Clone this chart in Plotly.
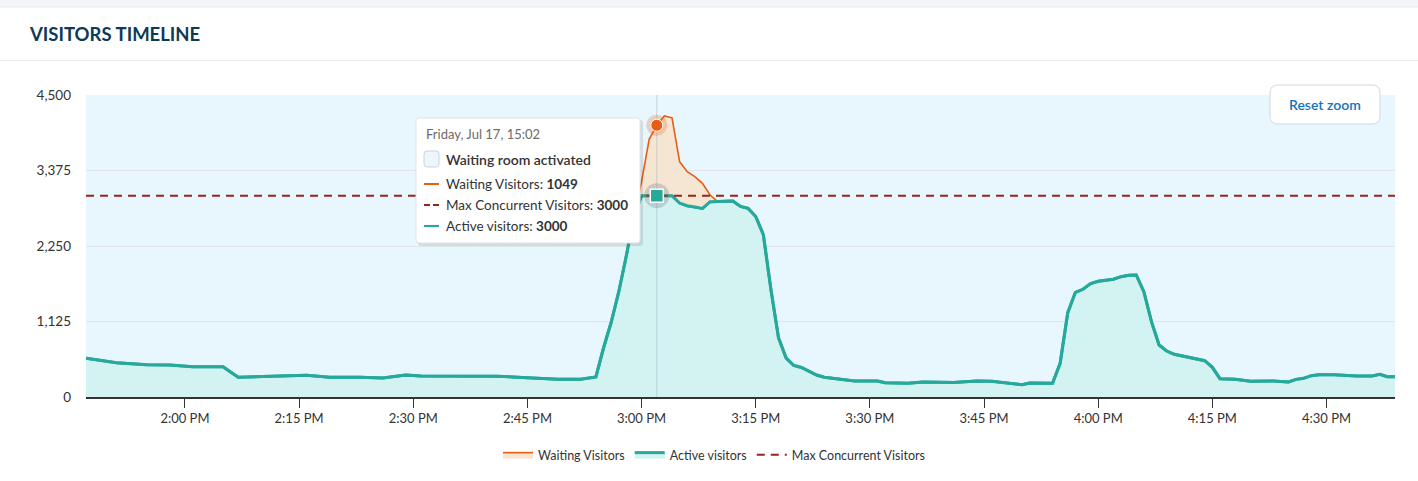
import pandas as pd
import plotly.graph_objects as go

# Datos (Friday, Jul 17 -> 2020-07-17)
day = "2020-07-17"

active_times = ["13:47", "13:49", "13:51", "13:55", "13:58", "14:01", "14:05", "14:07", "14:10", "14:13",
                "14:16", "14:19", "14:23", "14:26", "14:29", "14:31", "14:37", "14:41", "14:45", "14:49",
                "14:52", "14:54", "14:55", "14:56", "14:57", "14:58", "14:59", "15:00", "15:01", "15:02",
                "15:03", "15:04", "15:05", "15:06", "15:07", "15:08", "15:09", "15:10", "15:11", "15:12",
                "15:13", "15:14", "15:15", "15:16", "15:17", "15:18", "15:19", "15:20", "15:21", "15:23",
                "15:24", "15:26", "15:28", "15:31", "15:32", "15:35", "15:37", "15:41", "15:44", "15:46",
                "15:48", "15:50", "15:51", "15:54", "15:55", "15:56", "15:57", "15:58", "15:59", "16:00",
                "16:02", "16:03", "16:04", "16:05", "16:06", "16:07", "16:08", "16:09", "16:10", "16:12",
                "16:14", "16:15", "16:16", "16:18", "16:20", "16:23", "16:25", "16:26", "16:27", "16:28",
                "16:29", "16:31", "16:32", "16:34", "16:36", "16:37", "16:38", "16:39"]
active_visitors = [577, 541, 511, 481, 477, 452, 452, 294, 303, 303,
                   323, 294, 296, 283, 328, 313, 315, 310, 288, 263,
                   265, 298, 730, 1110, 1565, 2105, 2700, 3000, 3000, 3000,
                   3000, 3000, 2890, 2850, 2830, 2810, 2910, 2910, 2920, 2920,
                   2840, 2810, 2690, 2420, 1600, 880, 580, 470, 440, 328,
                   294, 268, 238, 238, 213, 204, 224, 215, 238, 233,
                   205, 184, 209, 204, 502, 1256, 1560, 1605, 1690, 1724,
                   1754, 1793, 1813, 1818, 1569, 1122, 775, 685, 636, 586,
                   541, 442, 273, 263, 234, 238, 224, 263, 278, 318,
                   333, 333, 323, 313, 313, 338, 303, 300]

waiting_times = ["14:59", "15:00", "15:01", "15:02", "15:03", "15:04", "15:05", "15:06", "15:07", "15:08",
                 "15:09", "15:10"]
waiting_visitors = [0, 210, 840, 1049, 1187, 1160, 616, 507, 453, 374, 100, 0]

max_concurrent = 3000
hover_time = "15:02"

y_ticks = [0, 1125, 2250, 3375, 4500]
x_ticks = ["14:00", "14:15", "14:30", "14:45", "15:00", "15:15", "15:30", "15:45", "16:00", "16:15", "16:30"]

# Colores
TEAL = "#26a99b"
TEAL_FILL = "#d3f2f2"
ORANGE = "#e85d14"
ORANGE_FILL = "#f5e6d4"
DARKRED = "#9b2418"
PLOT_BG = "#e8f6fd"

df_active = pd.DataFrame({"t": pd.to_datetime([f"{day} {t}" for t in active_times]), "v": active_visitors})
df_wait = pd.DataFrame({"t": pd.to_datetime([f"{day} {t}" for t in waiting_times]), "w": waiting_visitors})
df_wait = df_wait.merge(df_active, on="t", how="left")
df_wait["total"] = df_wait["v"] + df_wait["w"]

t_start = df_active["t"].iloc[0]
t_end = df_active["t"].iloc[-1]
t_hover = pd.Timestamp(f"{day} {hover_time}")
row_hover = df_wait[df_wait["t"] == t_hover].iloc[0]

# Conversion pixeles -> coordenadas paper (area del grafico 86..1395 x 95..397)
L, R, T, B = 86, 1395, 95, 397


def px(x):
    return (x - L) / (R - L)


def py(y):
    return (B - y) / (B - T)


def rounded_rect(x0, y0, x1, y1, r):
    # rectangulo redondeado en pixeles -> path en coordenadas paper
    rx = r / (R - L)
    ry = r / (B - T)
    a, b, c, d = px(x0), py(y1), px(x1), py(y0)
    return (f"M {a + rx},{b} L {c - rx},{b} Q {c},{b} {c},{b + ry} "
            f"L {c},{d - ry} Q {c},{d} {c - rx},{d} L {a + rx},{d} Q {a},{d} {a},{d - ry} "
            f"L {a},{b + ry} Q {a},{b} {a + rx},{b} Z")


fig = go.Figure()

# Active visitors (area)
fig.add_trace(go.Scatter(
    x=df_active["t"], y=df_active["v"],
    mode="lines", name="Active visitors",
    line=dict(color=TEAL, width=3),
    fill="tozeroy", fillcolor=TEAL_FILL,
    legendrank=2, hoverinfo="skip"
))

# Waiting visitors, apilado encima de los activos
fig.add_trace(go.Scatter(
    x=list(df_wait["t"]) + list(df_wait["t"][::-1]),
    y=list(df_wait["total"]) + list(df_wait["v"][::-1]),
    mode="lines", name="Waiting Visitors",
    line=dict(color=ORANGE, width=1.6),
    fill="toself", fillcolor=ORANGE_FILL,
    legendrank=1, hoverinfo="skip"
))

# linea de activos otra vez por encima
fig.add_trace(go.Scatter(
    x=df_active["t"], y=df_active["v"],
    mode="lines", line=dict(color=TEAL, width=3),
    showlegend=False, hoverinfo="skip"
))

# Max concurrent
fig.add_trace(go.Scatter(
    x=[t_start, t_end], y=[max_concurrent, max_concurrent],
    mode="lines", name="Max Concurrent Visitors",
    line=dict(color=DARKRED, width=2, dash="8px,6px"),
    legendrank=3, hoverinfo="skip"
))

# crosshair
fig.add_trace(go.Scatter(
    x=[t_hover, t_hover], y=[0, y_ticks[-1]],
    mode="lines", line=dict(color="rgba(140,150,160,0.35)", width=1),
    showlegend=False, hoverinfo="skip"
))

# puntos resaltados
fig.add_trace(go.Scatter(
    x=[t_hover], y=[row_hover["total"]], mode="markers",
    marker=dict(size=21, color="rgba(232,93,20,0.25)"),
    showlegend=False, hoverinfo="skip"
))
fig.add_trace(go.Scatter(
    x=[t_hover], y=[row_hover["total"]], mode="markers",
    marker=dict(size=12, color=ORANGE, line=dict(color="white", width=1)),
    showlegend=False, hoverinfo="skip"
))
fig.add_trace(go.Scatter(
    x=[t_hover], y=[row_hover["v"]], mode="markers",
    marker=dict(size=25, color="rgba(120,130,135,0.3)"),
    showlegend=False, hoverinfo="skip"
))
fig.add_trace(go.Scatter(
    x=[t_hover], y=[row_hover["v"]], mode="markers",
    marker=dict(size=13, symbol="square", color=TEAL, line=dict(color="white", width=1.5)),
    showlegend=False, hoverinfo="skip"
))

shapes = []
# franja superior y separador de cabecera
shapes.append(dict(type="rect", xref="paper", yref="paper", x0=px(0), x1=px(1418), y0=py(7), y1=py(0),
                   fillcolor="#f3f5f8", line=dict(width=0), layer="below"))
shapes.append(dict(type="line", xref="paper", yref="paper", x0=px(0), x1=px(1418), y0=py(7), y1=py(7),
                   line=dict(color="#e6eaee", width=1)))
shapes.append(dict(type="line", xref="paper", yref="paper", x0=px(0), x1=px(1418), y0=py(60.5), y1=py(60.5),
                   line=dict(color="#e8ebee", width=1)))

# tooltip
shapes.append(dict(type="path", xref="paper", yref="paper", path=rounded_rect(418, 120, 643, 246, 3),
                   fillcolor="rgba(0,0,0,0.10)", line=dict(width=0)))
shapes.append(dict(type="path", xref="paper", yref="paper", path=rounded_rect(416, 118, 640, 243, 3),
                   fillcolor="white", line=dict(color="#e3e3e3", width=1)))
shapes.append(dict(type="path", xref="paper", yref="paper", path=rounded_rect(424, 151, 439, 167, 3),
                   fillcolor="#eef5fb", line=dict(color="#c9d4de", width=1)))
shapes.append(dict(type="line", xref="paper", yref="paper", x0=px(424), x1=px(439), y0=py(184), y1=py(184),
                   line=dict(color=ORANGE, width=2)))
shapes.append(dict(type="line", xref="paper", yref="paper", x0=px(424), x1=px(430), y0=py(205), y1=py(205),
                   line=dict(color=DARKRED, width=2)))
shapes.append(dict(type="line", xref="paper", yref="paper", x0=px(433), x1=px(439), y0=py(205), y1=py(205),
                   line=dict(color=DARKRED, width=2)))
shapes.append(dict(type="line", xref="paper", yref="paper", x0=px(424), x1=px(439), y0=py(226), y1=py(226),
                   line=dict(color=TEAL, width=2)))

# boton Reset zoom
shapes.append(dict(type="path", xref="paper", yref="paper", path=rounded_rect(1270, 85, 1380, 124, 8),
                   fillcolor="white", line=dict(color="#cfd9e2", width=1)))

annotations = [
    dict(text="<b>VISITORS TIMELINE</b>", x=px(27), y=py(34), xanchor="left", yanchor="middle",
         font=dict(size=18.5, color="#0f3a56")),
    dict(text="Reset zoom", x=px(1325), y=py(104), xanchor="center", yanchor="middle",
         font=dict(size=14, color="#1474bb", weight=600)),
    dict(text=t_hover.strftime("%A, %b %d, %H:%M"), x=px(424), y=py(134), xanchor="left", yanchor="middle",
         font=dict(size=13, color="#6b6b6b")),
    dict(text="Waiting room activated", x=px(444), y=py(159), xanchor="left", yanchor="middle",
         font=dict(size=14, color="#333333", weight=600)),
    dict(text=f"Waiting Visitors: <b>{int(row_hover['w'])}</b>", x=px(444), y=py(184), xanchor="left",
         yanchor="middle", font=dict(size=13.5, color="#333333")),
    dict(text=f"Max Concurrent Visitors: <b>{max_concurrent}</b>", x=px(444), y=py(205), xanchor="left",
         yanchor="middle", font=dict(size=13.5, color="#333333")),
    dict(text=f"Active visitors: <b>{int(row_hover['v'])}</b>", x=px(444), y=py(226), xanchor="left",
         yanchor="middle", font=dict(size=13.5, color="#333333")),
]
for a in annotations:
    a.update(xref="paper", yref="paper", showarrow=False)

fig.update_layout(
    width=1418, height=481,
    margin=dict(l=L, r=1418 - R, t=T, b=481 - B, pad=0, autoexpand=False),
    paper_bgcolor="white", plot_bgcolor=PLOT_BG,
    font=dict(family="Lato, 'Noto Sans', sans-serif", size=13, color="#333333"),
    shapes=shapes, annotations=annotations,
    showlegend=True,
    legend=dict(orientation="h", x=px(714), xanchor="center", y=py(455), yanchor="middle",
                font=dict(size=12.5, color="#333333"), bgcolor="rgba(0,0,0,0)",
                itemwidth=30, traceorder="normal"),
    hovermode=False,
)

fig.update_xaxes(
    range=[t_start, t_end],
    tickvals=pd.to_datetime([f"{day} {t}" for t in x_ticks]),
    tickformat="%-I:%M %p",
    ticks="outside", ticklen=9, tickcolor="#333333", tickwidth=1,
    showline=True, linecolor="#333333", linewidth=1.5,
    showgrid=False, zeroline=False,
    tickfont=dict(size=13, color="#333333"),
)
fig.update_yaxes(
    range=[0, y_ticks[-1]],
    tickvals=y_ticks, tickformat=",",
    showgrid=True, gridcolor="#e2e5e8", gridwidth=1,
    zeroline=False, showline=False, ticks="",
    ticklabelstandoff=14,
    tickfont=dict(size=13.5, color="#333333"),
)

# quitar el margen del body para que la figura empiece en (0, 0)
fig.write_html("out.html", config={"displayModeBar": False},
               post_script="document.body.style.margin='0px';")
